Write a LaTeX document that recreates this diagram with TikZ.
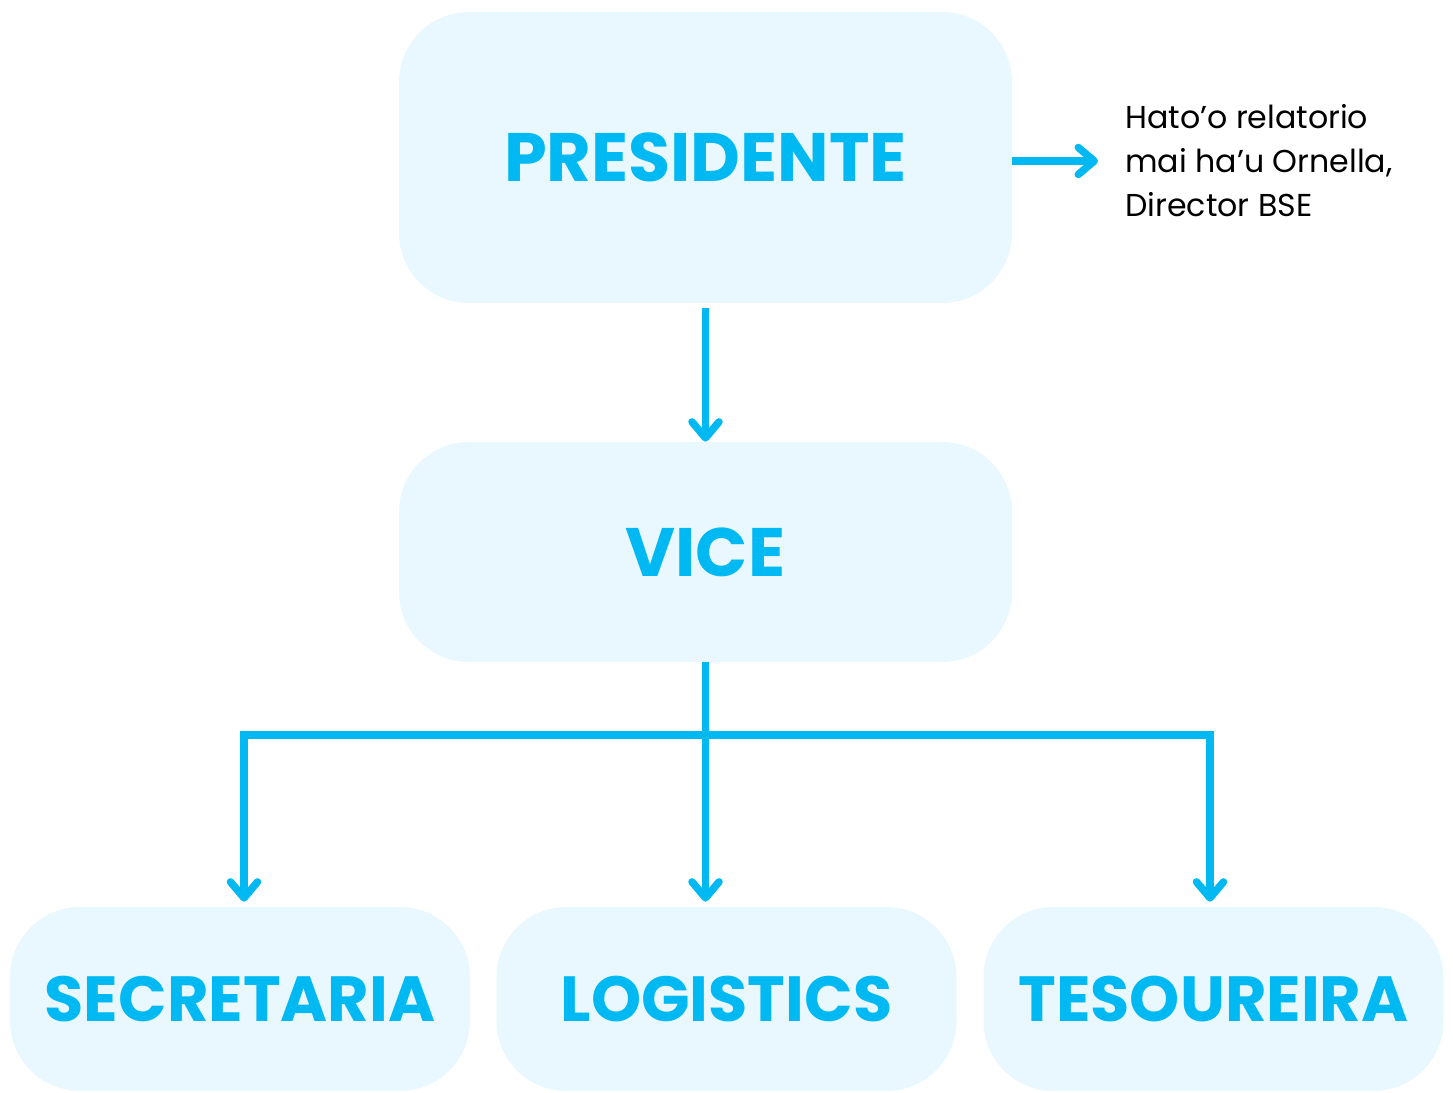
\documentclass[tikz,border=0pt]{standalone}
\usepackage{fontspec}
\setmainfont{Poppins}
\usetikzlibrary{arrows.meta}
\definecolor{skyline}{HTML}{00B9F2}
\definecolor{skyfill}{HTML}{E9F8FE}
\begin{document}
\begin{tikzpicture}[
        rolebox/.style={fill=skyfill,rounded corners=1.4cm,inner sep=0pt,
            text=skyline,font=\bfseries\fontsize{39}{39}\selectfont},
        link/.style={skyline,line width=0.15cm,
            -{Straight Barb[length=0.32cm,width=0.54cm,line cap=round,line join=round]}}
    ]
        \useasboundingbox (0,0) rectangle (29.06,-21.86);
        \node[rolebox,minimum width=12.26cm,minimum height=5.82cm] (president) at (14.11,-3.15) {PRESIDENTE};
        \node[rolebox,minimum width=12.26cm,minimum height=4.4cm] (vice) at (14.11,-11.04) {VICE};
        \begin{scope}[rolebox/.append style={minimum width=9.2cm,minimum height=3.68cm,
                font=\bfseries\fontsize{36.3}{36.3}\selectfont}]
            \node[rolebox] (secretaria) at (4.8,-19.98) {SECRETARIA};
            \node[rolebox] (logistics) at (14.53,-19.98) {LOGISTICS};
            \node[rolebox] (tesoureira) at (24.27,-19.98) {TESOUREIRA};
        \end{scope}
        \node[anchor=west,align=left,inner sep=0pt,font=\fontsize{18}{25}\selectfont] (note) at (22.5,-3.22)
            {Hato’o relatorio\\mai ha’u Ornella,\\Director BSE};
        \coordinate (split) at (14.11,-14.7);
        % connectors
        \draw[link,shorten <=0.1cm] (president.south) -- (vice.north);
        \draw[link,shorten >=0.54cm] (president.east |- note.west) -- (note.west);
        \draw[link,shorten >=0.1cm] (vice.south) -- (vice.south |- logistics.north);
        \draw[link,shorten >=0.1cm] (split) -| ([xshift=0.08cm]secretaria.north);
        \draw[link,shorten >=0.1cm] (split) -| ([xshift=-0.07cm]tesoureira.north);
    \end{tikzpicture}
\end{document}
